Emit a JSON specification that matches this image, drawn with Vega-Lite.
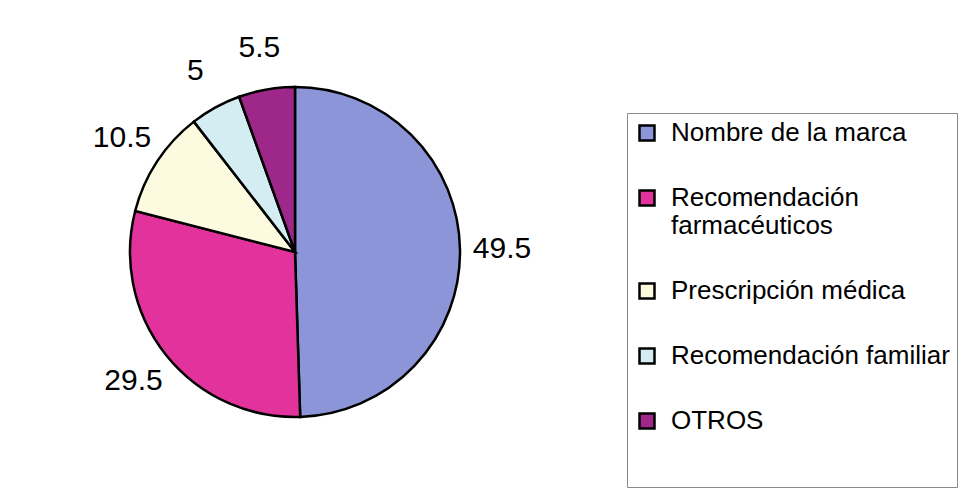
{
  "$schema": "https://vega.github.io/schema/vega-lite/v6.json",
  "width": 580,
  "height": 472,
  "autosize": {"type": "none"},
  "padding": {"left": 5, "top": 16, "right": 383, "bottom": 0},
  "background": "white",
  "config": {"view": {"stroke": null}, "font": "Liberation Sans"},
  "data": {
    "values": [
      {"categoria": "Nombre de la marca", "porcentaje": 49.5, "orden": 1},
      {"categoria": "Recomendación farmacéuticos", "porcentaje": 29.5, "orden": 2},
      {"categoria": "Prescripción médica", "porcentaje": 10.5, "orden": 3},
      {"categoria": "Recomendación familiar", "porcentaje": 5, "orden": 4},
      {"categoria": "OTROS", "porcentaje": 5.5, "orden": 5}
    ]
  },
  "encoding": {
    "theta": {"field": "porcentaje", "type": "quantitative", "stack": true},
    "order": {"field": "orden", "type": "quantitative", "sort": "ascending"}
  },
  "layer": [
    {
      "mark": {"type": "arc", "outerRadius": 165, "stroke": "black", "strokeWidth": 2.5},
      "encoding": {
        "color": {
          "field": "categoria",
          "type": "nominal",
          "scale": {
            "domain": ["Nombre de la marca", "Recomendación farmacéuticos", "Prescripción médica", "Recomendación familiar", "OTROS"],
            "range": ["#8C95D8", "#E2329B", "#FCFBE0", "#D3EDF3", "#9E2889"]
          },
          "legend": {
            "title": " ",
            "titleOrient": "bottom",
            "titleFontSize": 26,
            "titlePadding": 20,
            "orient": "none",
            "legendX": 622,
            "legendY": 97,
            "strokeColor": "#8a8a8a",
            "padding": 7,
            "symbolType": "square",
            "symbolSize": 225,
            "symbolStrokeColor": "black",
            "symbolStrokeWidth": 2.5,
            "symbolOpacity": 1,
            "labelFontSize": 26,
            "labelFont": "Liberation Sans",
            "labelColor": "black",
            "labelOffset": 11,
            "labelLimit": 400,
            "rowPadding": 39,
            "labelLineHeight": 27,
            "labelExpr": "datum.label == 'Recomendación farmacéuticos' ? ['Recomendación', 'farmacéuticos'] : datum.label"
          }
        }
      }
    },
    {
      "mark": {"type": "text", "radius": 207, "fontSize": 30, "fill": "black", "font": "Liberation Sans"},
      "encoding": {
        "text": {"field": "porcentaje", "type": "quantitative"}
      }
    }
  ]
}
